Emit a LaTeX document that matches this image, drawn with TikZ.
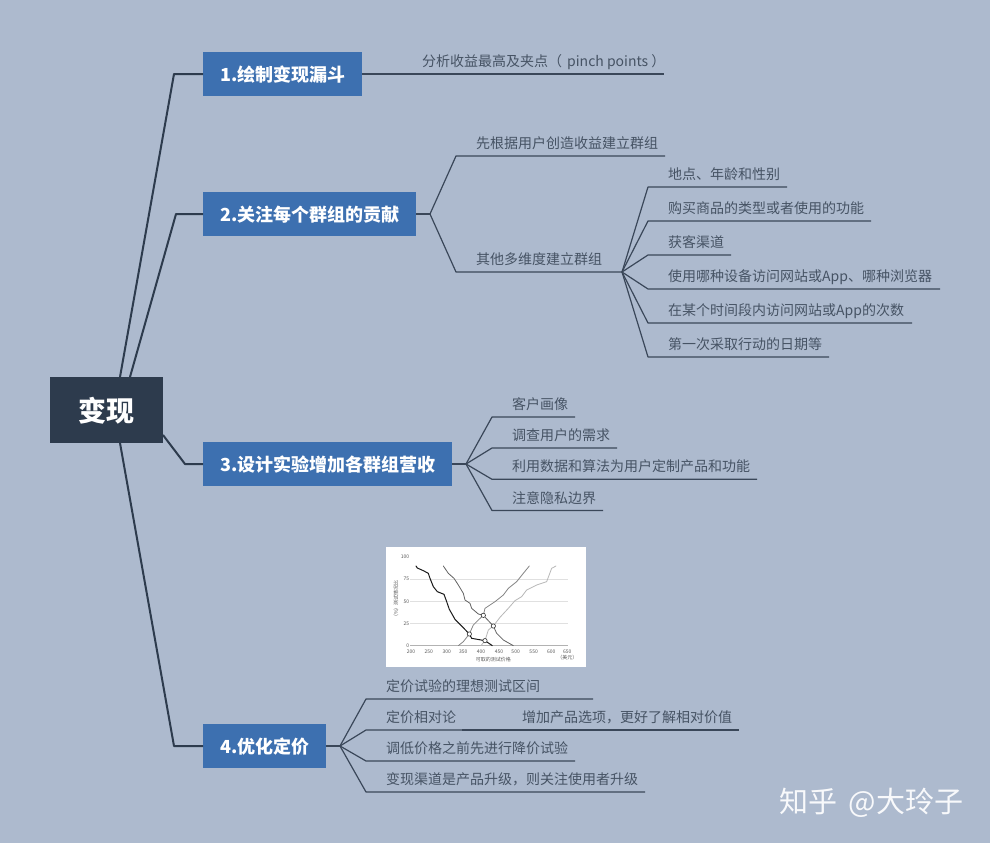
\documentclass[tikz,border=0pt]{standalone}
\usepackage{fontspec}
\setmainfont{Noto Sans CJK SC}
\definecolor{bgc}{HTML}{ADBACE}
\definecolor{rootc}{HTML}{2D3B4D}
\definecolor{topicc}{HTML}{3D70B0}
\definecolor{wirec}{HTML}{3A4759}
\definecolor{txtc}{HTML}{465364}
\tikzset{
  rootbox/.style={fill=rootc,text=white,font=\fontsize{28}{30}\selectfont\bfseries,minimum width=113pt,minimum height=66pt,inner sep=0pt},
  topicbox/.style={fill=topicc,text=white,font=\fontsize{18}{20}\selectfont\bfseries,minimum height=44pt,inner sep=0pt,anchor=west},
  mainwire/.style={draw=rootc,line width=2pt,line join=round},
  leafwire/.style={draw=wirec,line width=1.2pt,line join=round},
  leaftxt/.style={text=txtc,font=\fontsize{14}{16}\selectfont,anchor=base west,inner sep=0pt},
  charttxt/.style={text=black!65,font=\fontsize{5}{6}\selectfont,inner sep=0pt},
  curve/.style={line join=round,line cap=round},
  pin/.style={draw=black!80,fill=white,line width=0.6pt}
}
\newcommand{\dnone}[1]{\raisebox{-1pt}[\height][\depth]{#1}}
\newcommand{\leafline}[7]{%
  \coordinate (#1e) at (#3,#5);
  \coordinate (#1r) at (#4,#5);
  \node[leaftxt] (#1) at (#6,#5-7.5) {#7};
  \draw[leafwire] (#2) -- (#1e) -- (#1r);
}
\begin{document}
\begin{tikzpicture}[x=1pt,y=-1pt]
\useasboundingbox (0,0) rectangle (990,843);
\fill[bgc] (0,0) rectangle (990,843);
% root and topics
\node[rootbox] (root) at (106.5,410) {\dnone{变现}};
\node[topicbox,minimum width=159pt] (t1) at (203,74) {\dnone{1.绘制变现漏斗}};
\node[topicbox,minimum width=213pt] (t2) at (203,214) {\dnone{2.关注每个群组的贡献}};
\node[topicbox,minimum width=249pt] (t3) at (203,464) {\dnone{3.设计实验增加各群组营收}};
\node[topicbox,minimum width=123pt] (t4) at (203,746) {\dnone{4.优化定价}};
\coordinate (r1) at (120,377);
\coordinate (r2) at (130,377);
\coordinate (r3) at (163,435);
\coordinate (r4) at (120,443);
\coordinate (k1) at (174,74);
\coordinate (k2) at (176,214);
\coordinate (k3) at (185,464);
\coordinate (k4) at (174,746);
\draw[mainwire] (r1) -- (k1) -- (t1.west);
\draw[mainwire] (r2) -- (k2) -- (t2.west);
\draw[mainwire] (r3) -- (k3) -- (t3.west);
\draw[mainwire] (r4) -- (k4) -- (t4.west);
% branch 1
\leafline{a}{t1.east}{405}{664}{74}{422}{分析收益最高及夹点（\hspace{5pt}pinch points\hspace{3pt}）}
% branch 2
\coordinate (j2) at (430,214);
\draw[leafwire] (t2.east) -- (j2);
\leafline{b}{j2}{456}{665}{156}{476}{先根据用户创造收益建立群组}
\leafline{c}{j2}{456}{622}{272}{476}{其他多维度建立群组}
\leafline{c1}{cr}{648}{787}{187}{668}{地点、年龄和性别}
\leafline{c2}{cr}{648}{871}{221}{668}{购买商品的类型或者使用的功能}
\leafline{c3}{cr}{648}{731}{255}{668}{获客渠道}
\leafline{c4}{cr}{648}{940}{289}{668}{使用哪种设备访问网站或App、哪种浏览器}
\leafline{c5}{cr}{648}{912}{323}{668}{在某个时间段内访问网站或App的次数}
\leafline{c6}{cr}{648}{829}{357}{668}{第一次采取行动的日期等}
% branch 3
\coordinate (j3) at (466,464);
\draw[leafwire] (t3.east) -- (j3);
\leafline{d1}{j3}{492}{575}{417}{512}{客户画像}
\leafline{d2}{j3}{492}{617}{448}{512}{调查用户的需求}
\leafline{d3}{j3}{492}{757}{479.3}{512}{利用数据和算法为用户定制产品和功能}
\leafline{d4}{j3}{492}{603}{510.5}{512}{注意隐私边界}
% branch 4
\coordinate (j4) at (340,746);
\draw[leafwire] (t4.east) -- (j4);
\leafline{f1}{j4}{366}{593}{699}{386}{定价试验的理想测试区间}
\leafline{f2}{j4}{366}{462}{730}{386}{定价相对论}
\leafline{f3}{j4}{366}{575}{761}{386}{调低价格之前先进行降价试验}
\leafline{f4}{j4}{366}{645}{792}{386}{变现渠道是产品升级，则关注使用者升级}
\coordinate (g1e) at (739,730);
\node[leaftxt] (g1) at (522,722.5) {增加产品选项，更好了解相对价值};
\draw[leafwire] (f2r) -- (g1e);
% chart
\fill[white] (386,547) rectangle (586,667);
\begin{scope}[shift={(380,540)},x=0.3333pt,y=-0.3333pt]
  \draw[black!12,line width=0.5pt] (90,117) -- (565,117) (90,184) -- (565,184) (90,250) -- (565,250);
  \draw[black!30,line width=0.5pt] (90,317) -- (565,317);
  \draw[curve,black!28,line width=0.8pt] (303,317) -- (315,302) -- (325,270) -- (340,258) -- (360,232) -- (385,205) -- (405,182) -- (425,170) -- (440,150) -- (470,135) -- (500,125) -- (515,85) -- (528,78);
  \draw[curve,black!48,line width=0.8pt] (235,317) -- (250,305) -- (268,282) -- (280,255) -- (295,240) -- (310,226) -- (315,205) -- (345,185) -- (370,165) -- (385,145) -- (410,125) -- (430,100) -- (448,78);
  \draw[curve,black!62,line width=0.8pt] (190,78) -- (205,100) -- (222,115) -- (235,135) -- (250,160) -- (255,180) -- (270,190) -- (275,205) -- (295,222) -- (310,226) -- (340,258) -- (350,280) -- (370,300) -- (400,317);
  \draw[curve,black!90,line width=1pt] (108,78) -- (112,84) -- (130,92) -- (145,100) -- (150,115) -- (160,140) -- (172,155) -- (192,163) -- (200,185) -- (208,208) -- (225,238) -- (245,258) -- (268,282) -- (275,295) -- (315,302) -- (337,317);
  \foreach \px/\py in {310/226,340/258,268/282,315/302}
    \draw[pin] (\px,\py) circle (6.5);
  \foreach \val/\py in {100/50,75/117,50/184,25/250,0/317}
    \node[charttxt,anchor=east] at (88,\py) {\val};
  \foreach \val/\px in {200/93,250/146,300/200,350/250,400/303,450/357,500/407,550/461,600/514,650/562}
    \node[charttxt] at (\px,334) {\val};
  \node[charttxt] at (340,360) {可取的测试价格};
  \node[charttxt] at (562,352) {（美元）};
  \node[charttxt,rotate=90] at (48,180) {（\%）测试情况比};
\end{scope}
% watermark
\node[text=white!92!bgc,font=\fontsize{29}{31}\selectfont,anchor=base west,inner sep=0pt] (wm) at (779,812) {知乎\hspace{5pt} @大玲子};
\end{tikzpicture}
\end{document}
